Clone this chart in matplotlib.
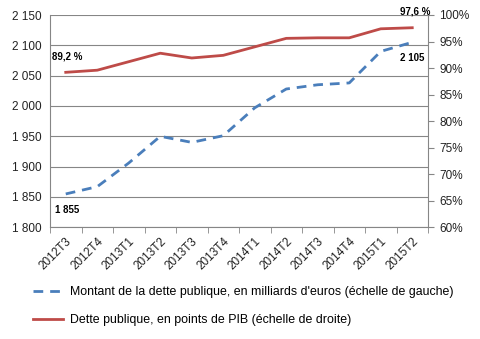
import numpy as np
import matplotlib
matplotlib.use("Agg")
import matplotlib.pyplot as plt

plt.rcParams['font.family'] = ['Liberation Sans', 'DejaVu Sans']

# ---------- DATA ----------
quarters = ["2012T3", "2012T4", "2013T1", "2013T2", "2013T3", "2013T4",
            "2014T1", "2014T2", "2014T3", "2014T4", "2015T1", "2015T2"]
dette_mds = [1855, 1867, 1906, 1950, 1940, 1951, 1997, 2028, 2035, 2038, 2090, 2105]
dette_pib = [89.2, 89.6, 91.2, 92.8, 91.9, 92.4, 94.0, 95.6, 95.7, 95.7, 97.4, 97.6]

left_ticks = [1800, 1850, 1900, 1950, 2000, 2050, 2100, 2150]
right_ticks = [60, 65, 70, 75, 80, 85, 90, 95, 100]

lbl_blue = "Montant de la dette publique, en milliards d'euros (échelle de gauche)"
lbl_red = "Dette publique, en points de PIB (échelle de droite)"

blue = "#4a7ebb"
red = "#be4b48"
grey = "#868686"

# ---------- PLOT ----------
fig = plt.figure(figsize=(4.8, 3.39), dpi=100)
ax = fig.add_axes([50/480, 1 - 227.3/339, 378/480, 212.3/339])
ax2 = ax.twinx()

x = np.arange(len(quarters))
l1, = ax.plot(x, dette_mds, color=blue, lw=2, ls=(0, (3.5, 2.5)), label=lbl_blue)
l2, = ax2.plot(x, dette_pib, color=red, lw=2, label=lbl_red)

ax.set_ylim(1800, 2150)
ax.set_yticks(left_ticks)
ax.set_yticklabels([f"{v:,}".replace(",", " ") for v in left_ticks])
ax2.set_ylim(60, 100)
ax2.set_yticks(right_ticks)
ax2.set_yticklabels([f"{v}%" for v in right_ticks])

ax.set_xlim(-0.5, len(quarters) - 0.5)
ax.set_xticks(x)
ax.set_xticklabels(quarters, rotation=45, ha="right", rotation_mode="anchor")
ax.set_xticks(np.arange(-0.5, len(quarters), 1), minor=True)
ax.tick_params(axis="x", which="major", length=0, pad=6)
ax.tick_params(axis="x", which="minor", length=4, color=grey)
ax.tick_params(axis="y", length=0, pad=6)
ax2.tick_params(axis="y", length=4, color=grey, pad=4)

for a in (ax, ax2):
    a.tick_params(labelsize=8.5, labelcolor="#222222")
    for s in a.spines.values():
        s.set_visible(False)
ax.spines["left"].set_visible(True)
ax.spines["bottom"].set_visible(True)
ax2.spines["right"].set_visible(True)
for s in (ax.spines["left"], ax.spines["bottom"], ax2.spines["right"]):
    s.set_color(grey)
    s.set_linewidth(0.8)

ax.grid(axis="y", color=grey, lw=0.8)
ax.set_axisbelow(True)

# data labels
ax2.annotate("89,2 %", (x[0], dette_pib[0]), xytext=(-10, 8), textcoords="offset points",
             fontsize=7, fontweight="bold", ha="left", va="bottom")
ax2.annotate("97,6 %", (x[-1], dette_pib[-1]), xytext=(-9, 8), textcoords="offset points",
             fontsize=7, fontweight="bold", ha="left", va="bottom", annotation_clip=False)
ax.annotate("1 855", (x[0], dette_mds[0]), xytext=(-8, -8), textcoords="offset points",
            fontsize=7, fontweight="bold", ha="left", va="top")
ax.annotate("2 105", (x[-1], dette_mds[-1]), xytext=(-9, -8), textcoords="offset points",
            fontsize=7, fontweight="bold", ha="left", va="top")

fig.legend([l1, l2], [lbl_blue, lbl_red], loc="upper left", bbox_to_anchor=(22/480, 1 - 275/339),
           frameon=False, fontsize=8.9, handlelength=2.4, handletextpad=0.6, labelspacing=1.3)

fig.savefig("out.png", dpi=100)
